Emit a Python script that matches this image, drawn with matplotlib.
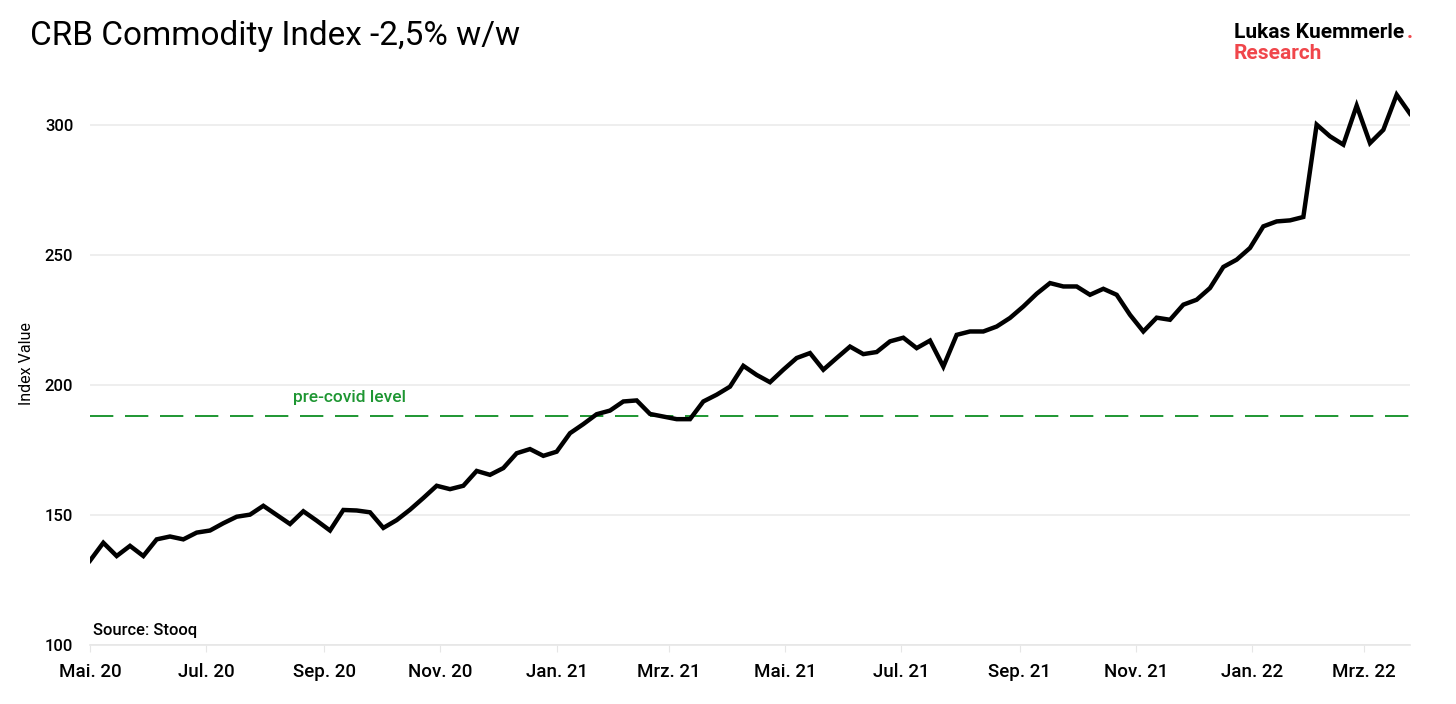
import matplotlib
matplotlib.use("Agg")
import matplotlib.pyplot as plt
import pandas as pd

plt.rcParams['font.family'] = ['Roboto', 'DejaVu Sans']

start_date = "2020-05-01"
values = [132.4, 139.3, 134.2, 138.1, 134.2, 140.6, 141.7, 140.6, 143.2, 144.0,
          146.8, 149.3, 150.1, 153.5, 150.0, 146.5, 151.4, 147.8, 144.0, 151.9,
          151.7, 151.0, 145.0, 148.0, 152.0, 156.5, 161.2, 159.9, 161.2, 166.9,
          165.4, 168.0, 173.7, 175.3, 172.7, 174.3, 181.4, 184.9, 188.7, 190.1,
          193.6, 194.0, 188.8, 187.8, 186.8, 186.8, 193.6, 196.2, 199.3, 207.3,
          203.8, 201.0, 205.8, 210.3, 212.2, 205.8, 210.3, 214.7, 211.8, 212.6,
          216.7, 218.1, 214.1, 217.0, 207.0, 219.2, 220.5, 220.5, 222.4, 225.7,
          230.1, 235.0, 239.1, 237.8, 237.8, 234.6, 236.9, 234.6, 226.9, 220.5,
          225.8, 225.0, 230.8, 232.7, 237.2, 245.3, 248.1, 252.6, 260.9, 262.8,
          263.2, 264.5, 300.0, 295.5, 292.3, 307.3, 292.9, 298.0, 311.5, 304.2]
pre_covid_level = 188.1
yticks = [100, 150, 200, 250, 300]
xtick_dates = ["2020-05-01", "2020-07-01", "2020-09-01", "2020-11-01", "2021-01-01",
               "2021-03-01", "2021-05-01", "2021-07-01", "2021-09-01", "2021-11-01",
               "2022-01-01", "2022-03-01"]
xtick_labels = ["Mai. 20", "Jul. 20", "Sep. 20", "Nov. 20", "Jan. 21", "Mrz. 21",
                "Mai. 21", "Jul. 21", "Sep. 21", "Nov. 21", "Jan. 22", "Mrz. 22"]

dates = pd.date_range(start_date, periods=len(values), freq="W-FRI")

fig = plt.figure(figsize=(14.56, 7.04), dpi=100)
ax = fig.add_axes([90/1456, 59/704, 1320/1456, 562/704])

ax.plot(dates, values, color="black", lw=3.2, solid_joinstyle="miter", zorder=3)
ax.axhline(pre_covid_level, color="#1e9632", lw=1.4, dashes=(12, 6), zorder=2)
ax.text(pd.Timestamp("2020-09-14"), pre_covid_level + 4, "pre-covid level",
        color="#1e9632", fontsize=12.5, fontweight="medium", ha="center", va="bottom")

ax.set_xlim(dates[0], dates[-1])
ax.set_ylim(100, 316)
ax.set_yticks(yticks)
ax.set_yticklabels([str(v) for v in yticks])
ax.set_xticks(pd.to_datetime(xtick_dates))
ax.set_xticklabels(xtick_labels)
ax.grid(axis="y", color="#ebebeb", lw=1.2)
ax.set_axisbelow(True)
for s in ["top", "right", "left"]:
    ax.spines[s].set_visible(False)
ax.spines["bottom"].set_color("#e6e6e6")
ax.spines["bottom"].set_linewidth(1.2)
ax.tick_params(axis="y", length=0, pad=12, labelsize=12)
ax.tick_params(axis="x", length=5, color="#e6e6e6", pad=8, labelsize=13.5)
for lab in ax.get_xticklabels() + ax.get_yticklabels():
    lab.set_fontweight("medium")

ax.set_ylabel("Index Value", fontsize=11.5, labelpad=8)
ax.text(0.002, 0.012, "Source: Stooq", transform=ax.transAxes, fontsize=12,
        fontweight="medium", ha="left", va="bottom")

fig.text(30/1456, 1 - 36/704, "CRB Commodity Index -2,5% w/w", fontsize=24,
         ha="left", va="center")
logo = fig.text(1234/1456, 1 - 38/704, "Lukas Kuemmerle", fontsize=15, fontweight="bold",
                ha="left", va="baseline", color="black")
ax.annotate(".", xy=(1, 0), xycoords=logo, xytext=(2, 0), textcoords="offset points",
            fontsize=15, fontweight="bold", ha="left", va="bottom", color="#f0464b",
            annotation_clip=False)
fig.text(1234/1456, 1 - 59/704, "Research", fontsize=15, fontweight="bold",
         ha="left", va="baseline", color="#f0464b")

fig.savefig("out.png", dpi=100)
